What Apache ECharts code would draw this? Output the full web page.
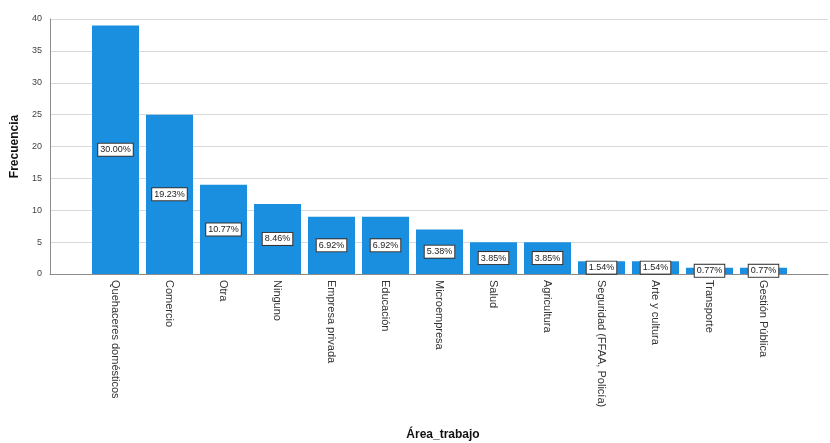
<!DOCTYPE html>
<html><head><meta charset="utf-8">
<script src="https://cdn.jsdelivr.net/npm/echarts@6/dist/echarts.min.js"></script>
<style>html,body{margin:0;padding:0;background:#fff}#c{width:830px;height:443px}</style>
</head><body><div id="c"></div>
<script>
const categories = ['Quehaceres domésticos','Comercio','Otra','Ninguno','Empresa privada','Educación','Microempresa','Salud','Agricultura','Seguridad (FFAA, Policía)','Arte y cultura','Transporte','Gestión Pública'];
const frecuencias = [39, 25, 14, 11, 9, 9, 7, 5, 5, 2, 2, 1, 1];
const porcentajes = ['30.00%','19.23%','10.77%','8.46%','6.92%','6.92%','5.38%','3.85%','3.85%','1.54%','1.54%','0.77%','0.77%'];
const yTicks = [0, 40, 5];

const chart = echarts.init(document.getElementById('c'));
const TOP = 19, BOTTOM = 169;
chart.setOption({
  animation: false,
  grid: [
    {left: 50, right: 2, top: TOP, bottom: BOTTOM, containLabel: false, outerBoundsMode: 'none'},
    {left: 88.5, right: 39.5, top: TOP, bottom: BOTTOM, containLabel: false, outerBoundsMode: 'none'}
  ],
  xAxis: [
    {gridIndex: 0, type: 'value', min: 0, max: 1,
     axisLine: {show: true, onZero: false, lineStyle: {color: '#8c8c8c', width: 1}},
     axisTick: {show: false}, axisLabel: {show: false}, splitLine: {show: false}},
    {gridIndex: 1, type: 'category', data: categories,
     axisLine: {show: false}, axisTick: {show: false},
     axisLabel: {rotate: -90, margin: 6, fontFamily: 'Liberation Sans', fontSize: 11, color: '#333', interval: 0}}
  ],
  yAxis: [
    {gridIndex: 0, type: 'value', min: yTicks[0], max: yTicks[1], interval: yTicks[2],
     axisLine: {show: true, lineStyle: {color: '#8c8c8c'}},
     axisTick: {show: false},
     axisLabel: {fontFamily: 'Liberation Sans', fontSize: 9, color: '#444', margin: 8},
     splitLine: {show: true, lineStyle: {color: '#d9d9d9', width: 1}},
     name: 'Frecuencia', nameLocation: 'middle', nameGap: 27, nameRotate: 90,
     nameTextStyle: {fontFamily: 'Liberation Sans', fontWeight: 'bold', fontSize: 12, color: '#111'}},
    {gridIndex: 1, type: 'value', min: yTicks[0], max: yTicks[1], show: false}
  ],
  title: {text: 'Área_trabajo', left: 443, top: 429, textAlign: 'center', padding: 0,
    textStyle: {fontFamily: 'Liberation Sans', fontWeight: 'bold', fontSize: 12, color: '#111'}},
  series: [{
    type: 'bar', xAxisIndex: 1, yAxisIndex: 1,
    data: frecuencias, barWidth: 47,
    itemStyle: {color: '#1a8fe0'},
    label: {
      show: true, position: 'inside',
      formatter: p => porcentajes[p.dataIndex],
      backgroundColor: '#fff', borderColor: '#333', borderWidth: 1,
      padding: [2, 2, 1, 2], fontFamily: 'Liberation Sans', fontSize: 9, color: '#222'
    }
  }]
});
</script></body></html>
